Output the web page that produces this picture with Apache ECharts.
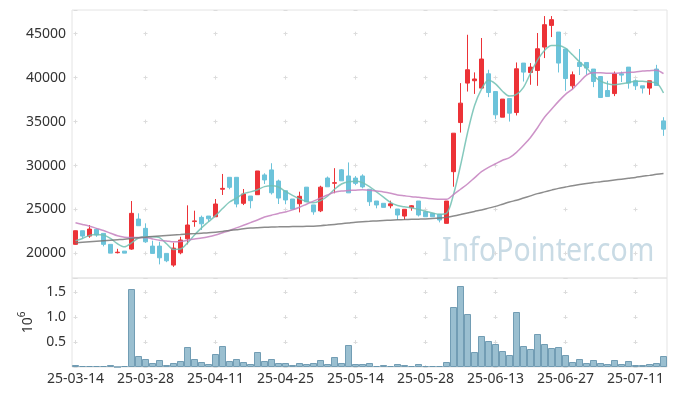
<!DOCTYPE html>
<html><head><meta charset="utf-8">
<script src="https://cdn.jsdelivr.net/npm/echarts@6/dist/echarts.min.js"></script>
<style>html,body{margin:0;padding:0;background:#fff}#c{width:677px;height:396px}</style>
</head><body><div id="c"></div>
<script>
const dates = ["25-03-14","25-03-17","25-03-18","25-03-19","25-03-20","25-03-21","25-03-24","25-03-25","25-03-26","25-03-27","25-03-28","25-03-31",
"25-04-01","25-04-02","25-04-03","25-04-04","25-04-07","25-04-08","25-04-09","25-04-10","25-04-11","25-04-14","25-04-15","25-04-16","25-04-17","25-04-18","25-04-21","25-04-22","25-04-23","25-04-24","25-04-25","25-04-28","25-04-29","25-04-30",
"25-05-02","25-05-07","25-05-08","25-05-09","25-05-12","25-05-13","25-05-14","25-05-15","25-05-16","25-05-19","25-05-20","25-05-21","25-05-22","25-05-23","25-05-26","25-05-27","25-05-28","25-05-29","25-05-30",
"25-06-02","25-06-04","25-06-05","25-06-09","25-06-10","25-06-11","25-06-12","25-06-13","25-06-16","25-06-17","25-06-18","25-06-19","25-06-20","25-06-23","25-06-24","25-06-25","25-06-26","25-06-27","25-06-30",
"25-07-01","25-07-02","25-07-03","25-07-04","25-07-07","25-07-08","25-07-09","25-07-10","25-07-11","25-07-14","25-07-15","25-07-16","25-07-17"];

// [open, close, low, high]
const ohlc = [
[21030,22580,21000,22600],[22580,21970,21710,22580],[21970,22770,21780,23230],[22740,22090,21890,22850],[22280,21030,20800,22280],
[21030,20030,20030,21030],[20080,20140,20000,20520],[20260,20030,20030,20260],[20490,24560,20410,25960],[23910,23150,23150,24560],
[22850,21320,21200,23420],[20830,20000,20000,21440],[20830,19500,18750,21320],[20000,19160,19000,20000],[18670,20600,18470,21210],
[20070,21520,19900,21890],[21660,23230,21030,25470],[23620,23700,23030,24860],[24100,23370,22660,24300],[24250,23940,23600,24250],
[24170,25620,24170,26190],[27300,27400,26650,29040],[28660,27520,27300,28660],[28660,25620,25240,28660],[25700,26760,25500,27330],
[26530,26000,25130,26530],[26680,29380,26680,29380],[28930,28360,27900,29120],[29500,26900,26700,30260],[28240,26300,25620,28400],
[27130,26080,25590,27130],[26190,25030,25030,26190],[25650,26500,24670,27020],[27540,25870,25870,27540],[25520,24730,24400,25520],
[24840,27540,24700,27700],[28580,27580,27580,28750],[27980,28050,26840,29700],[29510,28260,28260,29600],[28810,26890,26890,30350],
[28570,27970,27760,28800],[28810,27570,27400,29000],[27300,25880,25400,27300],[25960,25510,25130,25960],[25700,25240,25240,25700],
[25420,25640,25130,26000],[25050,24370,23800,25050],[24250,25020,23800,25020],[25200,25420,24860,25500],[25960,24370,24200,25960],
[24740,24170,24170,24740],[24560,24170,24170,24560],[24450,23800,23530,24450],[23420,25960,23420,25960],[29300,33680,27590,33680],
[34890,37100,33750,39380],[39380,40900,38420,44880],[39650,39850,38150,40600],[38810,42120,38810,44510],[40440,38310,37780,40900],
[38420,35770,35300,38420],[35500,37560,35500,37560],[37620,35960,35000,37620],[36030,41010,35700,41730],[41660,40630,39560,41660],
[40590,41200,39190,41660],[40820,43290,39070,45080],[43480,46030,42230,47010],[45950,46600,44620,47010],[45190,41660,40590,45190],
[43260,39900,38500,43260],[39070,40330,38700,40700],[41730,41270,40300,43260],[41730,41090,40330,41730],[40980,39560,38920,40980],
[40130,37740,37740,40130],[38540,37850,37850,39640],[38190,40440,37900,40700],[40440,40290,39500,40700],[41200,39380,38750,41200],
[39640,39070,38600,39800],[39070,38810,38200,39070],[38810,39640,38050,39640],[40980,39110,39110,41460],[35080,34140,33380,35500]
];

const ma5 = [21450,21700,22050,22150,22100,21700,21100,20750,21200,21750,21900,21900,21800,21100,20450,20500,21200,22100,22900,23600,
24300,25100,25850,26300,26800,27000,27250,27600,27700,27550,27050,26600,26200,25900,25750,26000,26500,27300,27900,28150,
28200,28050,27600,27000,26400,25800,25450,25300,25200,25000,24800,24600,24450,24550,26700,30000,33700,36800,38700,39700,
39300,38450,37900,38100,38900,40500,42000,43100,43650,43650,43350,42600,41800,41100,40250,39600,39300,39200,39300,39450,
39600,39600,39500,39400,38250];

const ma20 = [23490,23300,23100,22850,22600,22300,22000,21850,21820,21820,21820,21650,21500,21420,21320,21350,21500,21650,21750,21900,
22100,22350,22600,22900,23200,23500,23800,24150,24350,24550,24700,24950,25250,25600,25950,26300,26650,26950,27100,27150,
27200,27250,27200,27100,27000,26850,26650,26550,26450,26380,26300,26220,26150,26150,26700,27300,27900,28600,29300,29800,
30200,30600,30900,31500,32300,33200,34300,35500,36400,37300,38100,38700,39500,40300,40550,40550,40500,40500,40550,40600,
40650,40750,40800,40850,40450];

const ma60 = [21200,21260,21320,21380,21440,21500,21560,21620,21700,21780,21850,21920,21980,22040,22100,22150,22200,22250,22300,22350,
22420,22500,22600,22700,22800,22880,22930,22970,23000,23020,23040,23050,23060,23080,23100,23150,23220,23300,23380,23460,
23540,23600,23650,23700,23740,23780,23820,23850,23880,23900,23920,23960,24020,24100,24250,24420,24600,24780,24950,25150,
25350,25600,25850,26050,26300,26550,26800,27000,27200,27400,27550,27700,27830,27950,28060,28150,28250,28350,28450,28550,
28650,28770,28880,29000,29100];

// volume in units of 10^6
const volume = [0.04,0.02,0.02,0.02,0.02,0.04,0.0,0.02,1.56,0.22,0.16,0.08,0.14,0.04,0.08,0.12,0.40,0.16,0.10,0.06,
0.26,0.42,0.12,0.16,0.10,0.06,0.30,0.12,0.16,0.08,0.08,0.04,0.08,0.06,0.08,0.14,0.06,0.20,0.08,0.44,
0.06,0.06,0.08,0.02,0.04,0.02,0.06,0.04,0.02,0.06,0.02,0.02,0.02,0.10,1.20,1.62,1.06,0.30,0.62,0.52,
0.46,0.32,0.24,1.10,0.42,0.36,0.66,0.46,0.38,0.40,0.24,0.10,0.16,0.08,0.14,0.08,0.06,0.14,0.06,0.12,
0.04,0.04,0.06,0.08,0.22];

const FONT = '"Noto Sans", "DejaVu Sans", sans-serif';
const TXT = '#333';
const CROSS = '#dcdcdc';

const chart = echarts.init(document.getElementById('c'), null, {renderer: 'canvas'});
chart.setOption({
  animation: false,
  backgroundColor: '#fff',
  textStyle: {fontFamily: FONT},
  graphic: [{
    type: 'text', left: 442, top: 236, z: 0, silent: true, scaleX: 0.89, originX: 0,
    style: {text: 'InfoPointer.com', fill: '#c9dbe5', font: '32px ' + FONT}
  }],
  grid: [
    {left: 72, right: 10, top: 10, height: 268, show: true, borderColor: '#e4e4e4', borderWidth: 1, backgroundColor: 'transparent'},
    {left: 72, right: 10, top: 278, height: 89, show: true, borderColor: '#e4e4e4', borderWidth: 1, backgroundColor: 'transparent'}
  ],
  xAxis: [
    {type: 'category', gridIndex: 0, data: dates, boundaryGap: true,
     axisLine: {show: false}, axisTick: {show: false}, axisLabel: {show: false},
     splitLine: {show: true, interval: 9, alignWithLabel: true,
       lineStyle: {color: CROSS, width: 1, type: [4, 39.93], dashOffset: 22.2}}},
    {type: 'category', gridIndex: 1, data: dates, boundaryGap: true,
     axisLine: {show: false}, axisTick: {show: false},
     axisLabel: {show: true, interval: 9, color: TXT, fontSize: 14, fontFamily: FONT, margin: 5},
     splitLine: {show: true, interval: 9, alignWithLabel: true,
       lineStyle: {color: CROSS, width: 1, type: [4, 21], dashOffset: 13}}}
  ],
  yAxis: [
    {type: 'value', gridIndex: 0, min: 17200, max: 47700, splitNumber: 6,
     axisLine: {show: false}, axisTick: {show: false},
     axisLabel: {color: TXT, fontSize: 14, fontFamily: FONT, margin: 6, showMinLabel: false, showMaxLabel: false,
       formatter: v => String(Math.round(v))},
     splitLine: {show: true, lineStyle: {color: CROSS, width: 1, type: [4, 66], dashOffset: 68.5}}},
    {type: 'value', gridIndex: 1, min: 0, max: 1.78, splitNumber: 3,
     axisLine: {show: false}, axisTick: {show: false},
     axisLabel: {color: TXT, fontSize: 14, fontFamily: FONT, margin: 6, showMinLabel: false, showMaxLabel: false,
       formatter: v => v.toFixed(1)},
     splitLine: {show: true, lineStyle: {color: CROSS, width: 1, type: [4, 66], dashOffset: 68.5}},
     name: '{a|10}{b|6}', nameLocation: 'middle', nameRotate: 90, nameGap: 36,
     nameTextStyle: {color: TXT, fontFamily: FONT,
       rich: {a: {fontSize: 14, fontFamily: FONT, color: TXT, verticalAlign: 'bottom', lineHeight: 18},
              b: {fontSize: 10, fontFamily: FONT, color: TXT, verticalAlign: 'top', lineHeight: 18}}}}
  ],
  series: [
    {type: 'candlestick', xAxisIndex: 0, yAxisIndex: 0, data: ohlc, barWidth: 5,
     itemStyle: {color: '#ec3237', color0: '#6cc3da', borderColor: '#ec3237', borderColor0: '#6cc3da', borderWidth: 1}},
    {type: 'line', xAxisIndex: 0, yAxisIndex: 0, data: ma5, smooth: 0.3, symbol: 'none',
     lineStyle: {color: 'rgba(112,192,178,0.85)', width: 1.5}},
    {type: 'line', xAxisIndex: 0, yAxisIndex: 0, data: ma20, smooth: 0.3, symbol: 'none',
     lineStyle: {color: 'rgba(196,128,190,0.85)', width: 1.5}},
    {type: 'line', xAxisIndex: 0, yAxisIndex: 0, data: ma60, smooth: 0.3, symbol: 'none',
     lineStyle: {color: 'rgba(120,120,120,0.85)', width: 1.5}},
    {type: 'bar', xAxisIndex: 1, yAxisIndex: 1, data: volume, barCategoryGap: '0%',
     itemStyle: {color: 'rgba(143,184,203,0.9)', borderColor: 'rgba(104,150,174,0.9)', borderWidth: 1}}
  ]
});
</script></body></html>
